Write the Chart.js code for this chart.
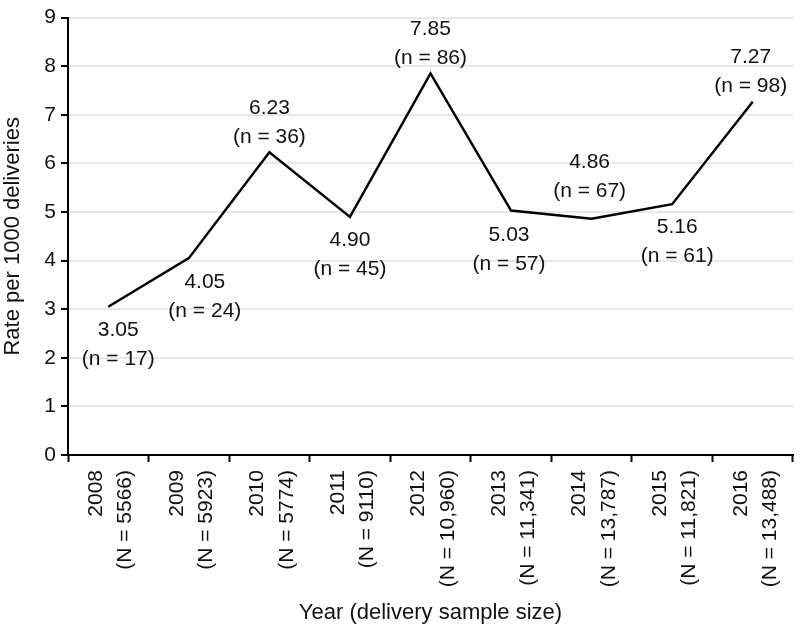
<!DOCTYPE html>
<html>
<head>
<meta charset="utf-8">
<script src="https://cdn.jsdelivr.net/npm/chart.js@4/dist/chart.umd.min.js"></script>
<style>
  html, body { margin: 0; padding: 0; background: #fff; }
  #wrap { width: 800px; height: 626px; }
</style>
</head>
<body>
<div id="wrap"><canvas id="c" width="800" height="626"></canvas></div>
<script>
const years = ["2008", "2009", "2010", "2011", "2012", "2013", "2014", "2015", "2016"];
const sampleSizes = ["5566", "5923", "5774", "9110", "10,960", "11,341", "13,787", "11,821", "13,488"];
const rates = [3.05, 4.05, 6.23, 4.90, 7.85, 5.03, 4.86, 5.16, 7.27];
const counts = [17, 24, 36, 45, 86, 57, 67, 61, 98];
const yTicks = [0, 1, 2, 3, 4, 5, 6, 7, 8, 9];

const FONT = "'Liberation Sans', Arial, sans-serif";

// label placement: 'below' => first line center at point.y + dy; 'above' => last line center at point.y - dy
const labelPlacement = [
  { pos: 'below', dx: 10, dy: 23 },
  { pos: 'below', dx: 16, dy: 24 },
  { pos: 'above', dx: 0, dy: 15 },
  { pos: 'below', dx: 0, dy: 23 },
  { pos: 'above', dx: 0, dy: 15 },
  { pos: 'below', dx: -2, dy: 25 },
  { pos: 'above', dx: -2, dy: 28 },
  { pos: 'below', dx: 5, dy: 23 },
  { pos: 'above', dx: -2, dy: 15 }
];

const pointLabels = {
  id: 'pointLabels',
  afterDatasetsDraw(chart) {
    const ctx = chart.ctx;
    const meta = chart.getDatasetMeta(0);
    const lh = 29;
    ctx.save();
    ctx.font = "21px " + FONT;
    ctx.fillStyle = '#111';
    ctx.textAlign = 'center';
    ctx.textBaseline = 'middle';
    meta.data.forEach((pt, i) => {
      const lines = [rates[i].toFixed(2), '(n = ' + counts[i] + ')'];
      const p = labelPlacement[i];
      const x = pt.x + p.dx;
      let y0;
      if (p.pos === 'below') y0 = pt.y + p.dy;
      else y0 = pt.y - p.dy - lh;
      lines.forEach((t, k) => ctx.fillText(t, x, y0 + k * lh));
    });
    ctx.restore();
  }
};

new Chart(document.getElementById('c'), {
  type: 'line',
  data: {
    labels: years.map((y, i) => [y, '(N = ' + sampleSizes[i] + ')']),
    datasets: [{
      data: rates,
      borderColor: '#000',
      borderWidth: 2.5,
      pointRadius: 0,
      tension: 0,
      fill: false
    }]
  },
  options: {
    responsive: false,
    animation: false,
    devicePixelRatio: 1,
    layout: { padding: { top: 12, right: 7, left: 0, bottom: 0 } },
    plugins: { legend: { display: false }, tooltip: { enabled: false } },
    scales: {
      x: {
        type: 'category',
        offset: true,
        grid: {
          offset: true,
          drawOnChartArea: false,
          tickLength: 7,
          tickColor: '#000',
          tickWidth: 2
        },
        border: { color: '#000', width: 2 },
        ticks: {
          color: '#111',
          font: { family: FONT, size: 21, lineHeight: 1.4 },
          minRotation: 90,
          maxRotation: 90,
          autoSkip: false,
          padding: 8,
          labelOffset: -12
        },
        title: {
          display: true,
          text: 'Year (delivery sample size)',
          color: '#111',
          font: { family: FONT, size: 22 },
          padding: { top: 7, bottom: 0 }
        },
        afterFit(scale) {
          scale.height = 171;
          scale.paddingLeft = 0;
          scale.paddingRight = 0;
        }
      },
      y: {
        min: 0,
        max: 9,
        afterBuildTicks(scale) { scale.ticks = yTicks.map(v => ({ value: v })); },
        grid: {
          color: '#e8e8e8',
          lineWidth: 2,
          tickColor: '#000',
          tickLength: 7,
          tickWidth: 2
        },
        border: { color: '#000', width: 2 },
        ticks: {
          color: '#111',
          font: { family: FONT, size: 21 },
          padding: 5
        },
        title: {
          display: true,
          text: 'Rate per 1000 deliveries',
          color: '#111',
          font: { family: FONT, size: 22 },
          padding: { top: 0, bottom: 3 }
        },
        afterFit(scale) { scale.width = 68; }
      }
    }
  },
  plugins: [pointLabels]
});
</script>
</body>
</html>
